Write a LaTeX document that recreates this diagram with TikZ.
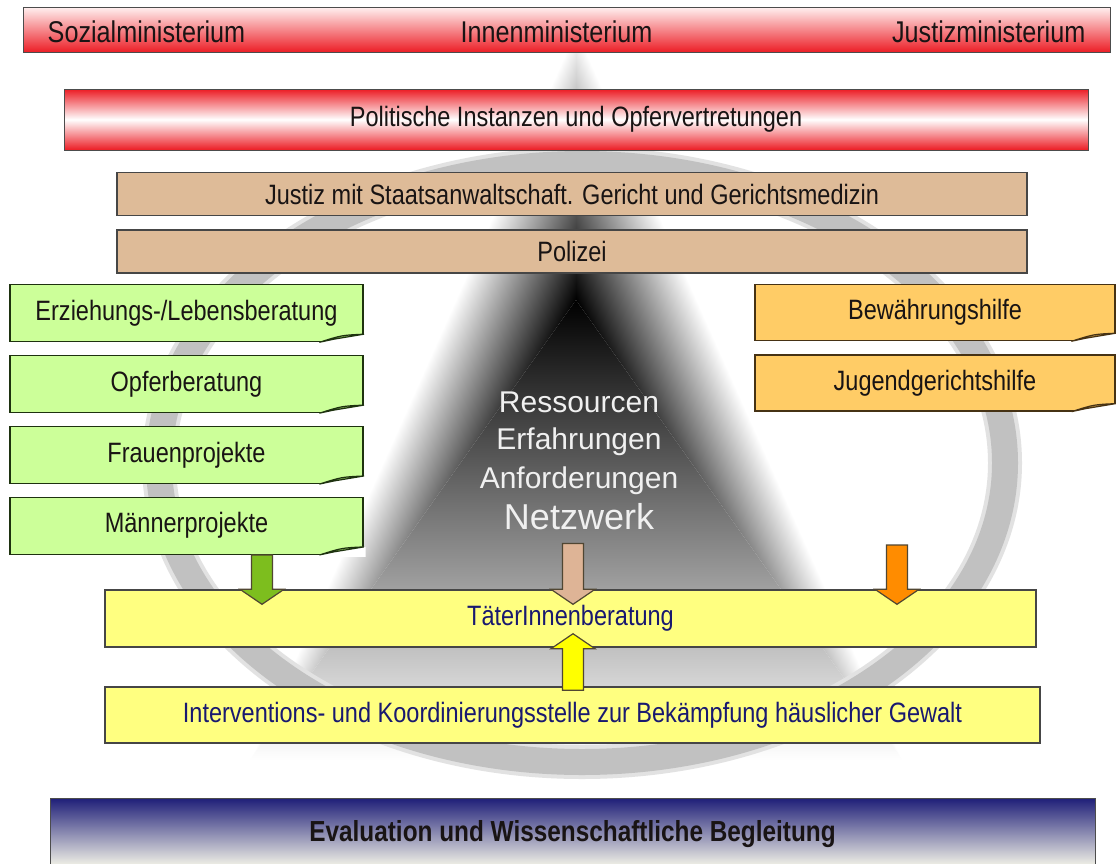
\documentclass[tikz,border=0pt]{standalone}
\usepackage{fontspec}
\setmainfont{Liberation Sans}
\newfontfamily\narrowsf[FakeStretch=0.84]{Liberation Sans}
\usetikzlibrary{positioning, calc}

\definecolor{redstrong}{RGB}{236,28,36}
\definecolor{redpale}{RGB}{255,238,238}
\definecolor{tanfill}{RGB}{222,187,152}
\definecolor{greenfill}{RGB}{204,255,153}
\definecolor{greenedge}{RGB}{30,50,15}
\definecolor{greenflap}{RGB}{150,200,100}
\definecolor{orangefill}{RGB}{255,204,102}
\definecolor{orangeedge}{RGB}{70,50,20}
\definecolor{orangeflap}{RGB}{210,160,70}
\definecolor{yellowfill}{RGB}{255,255,128}
\definecolor{navytext}{RGB}{25,25,112}
\definecolor{textdark}{RGB}{25,20,20}
\definecolor{boxedge}{RGB}{70,70,70}
\definecolor{evaltop}{RGB}{30,30,120}
\definecolor{evalbottom}{RGB}{255,255,238}
\definecolor{ringgray}{RGB}{190,190,190}
\definecolor{arrowedge}{RGB}{80,70,50}
\definecolor{arrowgreen}{RGB}{125,190,30}
\definecolor{arrowtan}{RGB}{222,180,150}
\definecolor{arroworange}{RGB}{255,140,0}
\definecolor{arrowyellow}{RGB}{255,255,0}

% block arrow from #2 to #3, filled with #1
\newcommand{\fatarrow}[3]{%
  \filldraw[fill=#1, draw=arrowedge, line width=1.2pt, line join=miter]
    let \p1=(#2), \p2=(#3), \n1={((\y2>\y1)*2-1)*15} in
    ({\x1-10.5pt},\y1) -- ({\x1-10.5pt},{\y2-(\n1)*1pt}) -- ({\x1-22pt},{\y2-(\n1)*1pt})
    -- (\x1,\y2) -- ({\x1+22pt},{\y2-(\n1)*1pt}) -- ({\x1+10.5pt},{\y2-(\n1)*1pt})
    -- ({\x1+10.5pt},\y1) -- cycle;
}

% curled corner at the lower right of a note
\newcommand{\dogear}[3]{%
  \fill[white] ([xshift=2pt,yshift=-2pt]#1.south east) -- ([xshift=2pt,yshift=8pt]#1.south east)
    -- ([yshift=8pt]#1.south east) .. controls ([xshift=-22pt,yshift=7pt]#1.south east) .. ([xshift=-44pt]#1.south east)
    -- ([xshift=-44pt,yshift=-2pt]#1.south east) -- cycle;
  \filldraw[fill=#2, draw=#3, line width=1.2pt, line join=round]
    ([xshift=-44pt]#1.south east) .. controls ([xshift=-22pt,yshift=7pt]#1.south east) .. ([yshift=8pt]#1.south east)
    -- ([xshift=-30pt,yshift=3pt]#1.south east) -- cycle;
}

\begin{document}
\begin{tikzpicture}[x=1pt, y=-1pt,
  box/.style={draw=boxedge, line width=1.4pt, inner sep=0pt, text=textdark,
    font=\narrowsf\fontsize{28}{31}\selectfont},
  barlabel/.style={inner sep=0pt, text=textdark, font=\narrowsf\fontsize{30}{33}\selectfont},
  redbar/.style={box, draw=gray!60!black, line width=1pt},
  tanbar/.style={box, fill=tanfill, minimum width=910pt, minimum height=43pt},
  greennote/.style={box, fill=greenfill, draw=greenedge, minimum width=353pt, minimum height=57pt},
  orangenote/.style={box, fill=orangefill, draw=orangeedge, minimum width=360pt, minimum height=56pt},
  yellowbar/.style={box, fill=yellowfill, text=navytext},
  midtext/.style={inner sep=0pt, text=white!94!black, font=\fontsize{30}{34}\selectfont}]

\path[use as bounding box, fill=white] (0,0) rectangle (1116,863);

% shaded pyramid in the middle
\begin{scope}
  \clip (576,300) -- (576,30) -- (250,760) -- cycle;
  \shade[top color=white, bottom color=black, transform canvas={shift={(250,760)}, rotate=65.94}]
    (-20,0) rectangle (820,110.2);
\end{scope}
\begin{scope}
  \clip (576,300) -- (576,30) -- (902,760) -- cycle;
  \shade[top color=white, bottom color=black, transform canvas={shift={(576,30)}, rotate=-65.94}]
    (-20,0) rectangle (820,110.2);
\end{scope}
\begin{scope}
  \clip (576,300) -- (250,760) -- (902,760) -- cycle;
  \shade[top color=black, bottom color=white] (250,300) rectangle (902,760);
\end{scope}

% ring
\draw[ringgray!45, line width=34pt] (582,463) ellipse [x radius=423pt, y radius=299pt];
\draw[ringgray, line width=26pt, opacity=0.9] (582,463) ellipse [x radius=423pt, y radius=299pt];

% ministries
\node[redbar, top color=redpale, bottom color=redstrong, minimum width=1087pt, minimum height=45pt] (minbar) at (566.5,30) {};
\node[barlabel, anchor=base west] (sozial) at ($(minbar.west)+(25,12)$) {Sozialministerium};
\node[barlabel, anchor=base] (innen) at ($(minbar.center)+(-10,12)$) {Innenministerium};
\node[barlabel, anchor=base east] (justizmin) at ($(minbar.east)+(-25,12)$) {Justizministerium};

\node[redbar, top color=redstrong, bottom color=redstrong, middle color=white,
  minimum width=1024pt, minimum height=61pt] (pol) at (576,119.5) {Politische Instanzen und Opfervertretungen};

\node[tanbar] (justiz) at (572,194) {Justiz mit Staatsanwaltschaft. Gericht und Gerichtsmedizin};
\node[tanbar, below=13pt of justiz] (polizei) {Polizei};

% advice centres
\node[greennote] (erz) at (186.5,313) {Erziehungs-/Lebensberatung};
\node[greennote, below=12.5pt of erz] (opf) {Opferberatung};
\node[greennote, below=12.5pt of opf] (frauen) {Frauenprojekte};
\node[greennote, below=12.5pt of frauen] (maenner) {Männerprojekte};
\foreach \n in {erz, opf, frauen, maenner}
  \dogear{\n}{greenflap}{greenedge};

\node[orangenote] (bew) at (935,312.5) {Bewährungshilfe};
\node[orangenote, below=13pt of bew] (jug) {Jugendgerichtshilfe};
\foreach \n in {bew, jug}
  \dogear{\n}{orangeflap}{orangeedge};

% centre
\node[midtext, anchor=base] (res) at (579,412) {Ressourcen};
\node[midtext, anchor=base] (erf) at (579,449) {Erfahrungen};
\node[midtext, anchor=base] (anf) at (579,488) {Anforderungen};
\node[midtext, anchor=base, font=\fontsize{36}{40}\selectfont] (netz) at (579,529) {Netzwerk};

\node[yellowbar, minimum width=931pt, minimum height=57pt] (taeter) at (570.5,618.5) {TäterInnenberatung};
\node[yellowbar, minimum width=935pt, minimum height=56pt] (interv) at (572.5,715)
  {Interventions- und Koordinierungsstelle zur Bekämpfung häuslicher Gewalt};

\node[box, draw=gray!60!black, line width=1pt, top color=evaltop, bottom color=evalbottom,
  minimum width=1045pt, minimum height=72pt, font=\narrowsf\bfseries\fontsize{29}{32}\selectfont]
  (eval) at (572.5,834) {Evaluation und Wissenschaftliche Begleitung};

% arrows
\coordinate (gcol) at (262,0);
\coordinate (tcol) at (573,0);
\coordinate (ofrom) at (897,545);
\fatarrow{arrowgreen}{maenner.south -| gcol}{$(taeter.north -| gcol)+(0,15)$}
\fatarrow{arrowtan}{$(netz.south -| tcol)+(0,14)$}{$(taeter.north -| tcol)+(0,15)$}
\fatarrow{arroworange}{ofrom}{$(taeter.north -| ofrom)+(0,15)$}
\fatarrow{arrowyellow}{$(interv.north -| tcol)+(0,4)$}{$(taeter.south -| tcol)+(0,-14)$}
\end{tikzpicture}
\end{document}
